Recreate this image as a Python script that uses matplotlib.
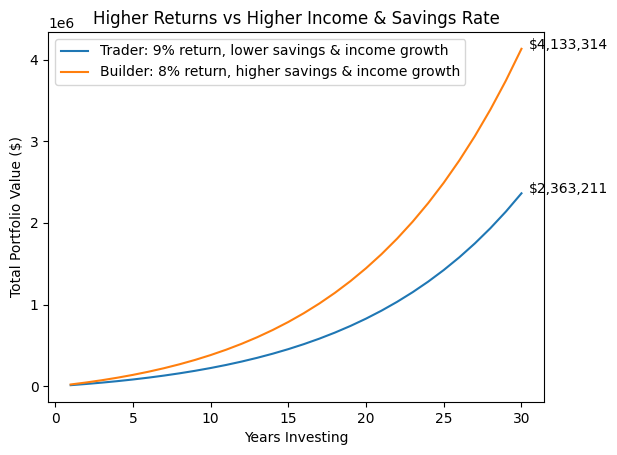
import matplotlib
matplotlib.use("Agg")
from matplotlib import pyplot as plt

# Years invested and portfolio values
years = list(range(1, 31))

trader_values = [
    13080, 27730, 44110, 62370, 82700, 105300, 130400, 158230, 189040, 223120,
    260780, 302360, 348220, 398770, 454450, 515730, 583140, 657240, 738660, 828080,
    926240, 1033930, 1152040, 1281540, 1423470, 1578970, 1749290, 1935790, 2139940, 2363211,
]
builder_values = [
    21600, 46010, 73500, 104380, 138980, 177670, 220830, 268890, 322310, 381600,
    447310, 520030, 600420, 689180, 787080, 894960, 1013710, 1144320, 1287850, 1445460,
    1618410, 1808060, 2015890, 2243510, 2492660, 2765220, 3063240, 3388940, 3744740, 4133314,
]

labels = [
    "Trader: 9% return, lower savings & income growth",
    "Builder: 8% return, higher savings & income growth",
]

fig, ax = plt.subplots(figsize=(6.17, 4.55), dpi=100)
fig.subplots_adjust(left=0.078, right=0.8817, top=0.9297, bottom=0.1165)

ax.plot(years, trader_values, label=labels[0])
ax.plot(years, builder_values, label=labels[1])

# final value labels
for series in (trader_values, builder_values):
    ax.annotate(f"${series[-1]:,.0f}", (years[-1], series[-1]),
                xytext=(5, 0), textcoords="offset points")

ax.set_title("Higher Returns vs Higher Income & Savings Rate")
ax.set_xlabel("Years Investing")
ax.set_ylabel("Total Portfolio Value ($)")
ax.legend(loc="upper left")

fig.savefig("out.png", dpi=100)
